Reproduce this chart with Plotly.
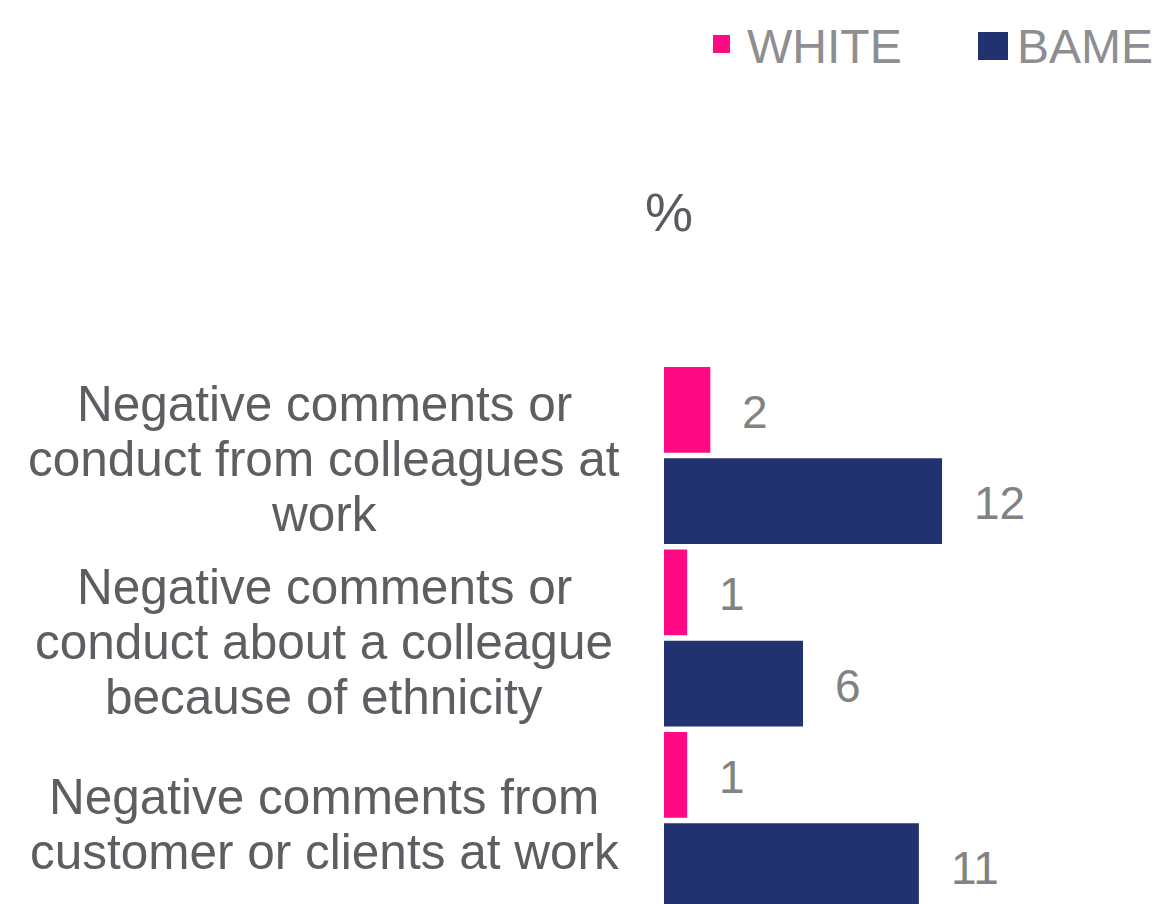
import plotly.graph_objects as go

# ---- data ----
categories = [
    "Negative comments or<br>conduct from colleagues at<br>work",
    "Negative comments or<br>conduct about a colleague<br>because of ethnicity",
    "Negative comments from<br>customer or clients at work",
]
series_names = ["WHITE", "BAME"]
white_values = [2, 1, 1]
bame_values = [12, 6, 11]
axis_title = "%"

# ---- style ----
FONT = "Liberation Sans, Arial, sans-serif"
PINK = "#FF0A84"
NAVY = "#223270"
W, H = 1165, 904
LABEL_GRAY = "#5d5d62"
NUM_GRAY = "#828282"
LEG_GRAY = "#8e8e92"

fig = go.Figure()
fig.add_trace(go.Bar(y=categories, x=white_values, orientation="h",
                     name=series_names[0], marker=dict(color=PINK, line=dict(width=0))))
fig.add_trace(go.Bar(y=categories, x=bame_values, orientation="h",
                     name=series_names[1], marker=dict(color=NAVY, line=dict(width=0))))

# plot geometry (pixels)
x0_px = 664
px_per_unit = 23.17
slot_px = 182.5
first_center_px = 455.5
y_top = (0 - first_center_px) / slot_px
y_bot = (H - first_center_px) / slot_px

annotations = []
# category labels, one annotation per line for tight line spacing
line_pitch = 55
for cat in categories:
    lines = cat.split("<br>")
    n = len(lines)
    for j, ln in enumerate(lines):
        annotations.append(dict(
            x=324 / W, xref="paper", xanchor="center",
            y=cat, yref="y", yanchor="middle",
            yshift=-((j - (n - 1) / 2) * line_pitch) - 3,
            text=ln, showarrow=False,
            font=dict(family=FONT, size=49.5, color=LABEL_GRAY)))

# value labels
sub = slot_px / 4
for cat, v in zip(categories, white_values):
    annotations.append(dict(x=v, xref="x", xanchor="left", xshift=30,
                            y=cat, yref="y", yanchor="middle", yshift=sub - 2,
                            text=str(v), showarrow=False,
                            font=dict(family=FONT, size=46, color=NUM_GRAY)))
for cat, v in zip(categories, bame_values):
    annotations.append(dict(x=v, xref="x", xanchor="left", xshift=30,
                            y=cat, yref="y", yanchor="middle", yshift=-sub - 2,
                            text=str(v), showarrow=False,
                            font=dict(family=FONT, size=46, color=NUM_GRAY)))

# "%" title
annotations.append(dict(x=669 / W, xref="paper", xanchor="center",
                        y=1 - 212 / H, yref="paper", yanchor="middle",
                        text=axis_title, showarrow=False,
                        font=dict(family=FONT, size=54, color="#5a5a60")))

# custom legend
legend_items = [
    (series_names[0], PINK, (713, 35, 730, 53), 745),
    (series_names[1], NAVY, (978, 32, 1008, 60), 1015),
]
shapes = []
for name, col, (xa, ya, xb, yb), tx in legend_items:
    shapes.append(dict(type="rect", xref="paper", yref="paper",
                       x0=xa / W, x1=xb / W, y0=1 - yb / H, y1=1 - ya / H,
                       fillcolor=col, line=dict(width=0)))
    annotations.append(dict(x=tx / W, xref="paper", xanchor="left",
                            y=1 - 46 / H, yref="paper", yanchor="middle",
                            text=name, showarrow=False,
                            font=dict(family=FONT, size=48, color=LEG_GRAY)))

fig.update_layout(
    width=W, height=H,
    margin=dict(l=0, r=0, t=0, b=0),
    paper_bgcolor="white", plot_bgcolor="white",
    barmode="group", bargap=0.0, bargroupgap=0.06,
    showlegend=False,
    xaxis=dict(domain=[x0_px / W, 1], range=[0, (W - x0_px) / px_per_unit],
               showgrid=False, zeroline=False, showticklabels=False, ticks="",
               showline=False),
    yaxis=dict(range=[y_bot, y_top], showgrid=False, zeroline=False,
               showticklabels=False, ticks="", showline=False),
    annotations=annotations,
    shapes=shapes,
)

fig.write_html("out.html")
